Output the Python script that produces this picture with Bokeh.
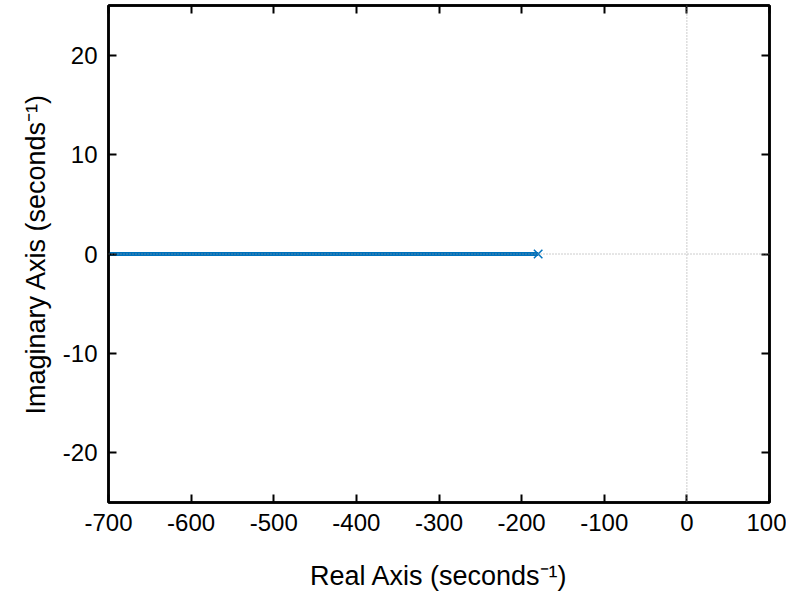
from bokeh.plotting import figure
from bokeh.models import Range1d, LinearAxis, Span, FixedTicker, PrintfTickFormatter
from bokeh.embed import file_html
from bokeh.resources import INLINE

# data
locus_x = [-700, -180]
locus_y = [0, 0]
pole_x = [-180]
pole_y = [0]
x_ticks = [-700, -600, -500, -400, -300, -200, -100, 0, 100]
y_ticks = [-20, -10, 0, 10, 20]

BLUE = "#0072BD"
FONT = "Liberation Sans"

p = figure(width=786, height=593, output_backend="svg", toolbar_location=None,
           x_range=Range1d(-700, 100), y_range=Range1d(-25, 25),
           min_border_left=108, min_border_right=17, min_border_top=5, min_border_bottom=91)
p.grid.visible = False
p.outline_line_color = "black"
p.outline_line_width = 2.5
p.background_fill_color = "white"
p.border_fill_color = "white"

p.add_layout(Span(location=0, dimension="height", line_color="#999999", line_width=1, line_dash="1 2"))
p.add_layout(Span(location=0, dimension="width", line_color="#999999", line_width=1, line_dash="1 2"))

p.line(locus_x, locus_y, line_color=BLUE, line_width=4)
p.scatter(pole_x, pole_y, marker="x", size=12, line_color=BLUE, line_width=1.5)

def style(ax, ticks, labels=True):
    ax.ticker = FixedTicker(ticks=ticks)
    ax.formatter = PrintfTickFormatter(format="%d")
    ax.minor_tick_line_color = None
    ax.major_tick_in = 8
    ax.major_tick_out = 0
    ax.major_tick_line_width = 2
    ax.axis_line_width = 2.5
    ax.axis_line_color = "black"
    ax.major_tick_line_color = "black"
    ax.major_label_text_font = FONT
    ax.major_label_text_font_size = "24px"
    ax.major_label_text_color = "black" if labels else None
    ax.axis_label_text_font = FONT
    ax.axis_label_text_font_size = "27px"
    ax.axis_label_text_font_style = "normal"
    ax.axis_label_text_color = "black"

xa = p.xaxis[0]
ya = p.yaxis[0]
style(xa, x_ticks)
style(ya, y_ticks)
xa.axis_label = "Real Axis (seconds\u207b\u00b9)"
ya.axis_label = "Imaginary Axis (seconds\u207b\u00b9)"
xa.major_label_standoff = 11
ya.major_label_standoff = 11
xa.axis_label_standoff = 27
ya.axis_label_standoff = 9

ra = LinearAxis()
style(ra, y_ticks, labels=False)
ra.major_label_text_font_size = "0px"
p.add_layout(ra, "right")
ta = LinearAxis()
style(ta, x_ticks, labels=False)
ta.major_label_text_font_size = "0px"
p.add_layout(ta, "above")

open("out.html", "w").write(file_html(p, INLINE))
